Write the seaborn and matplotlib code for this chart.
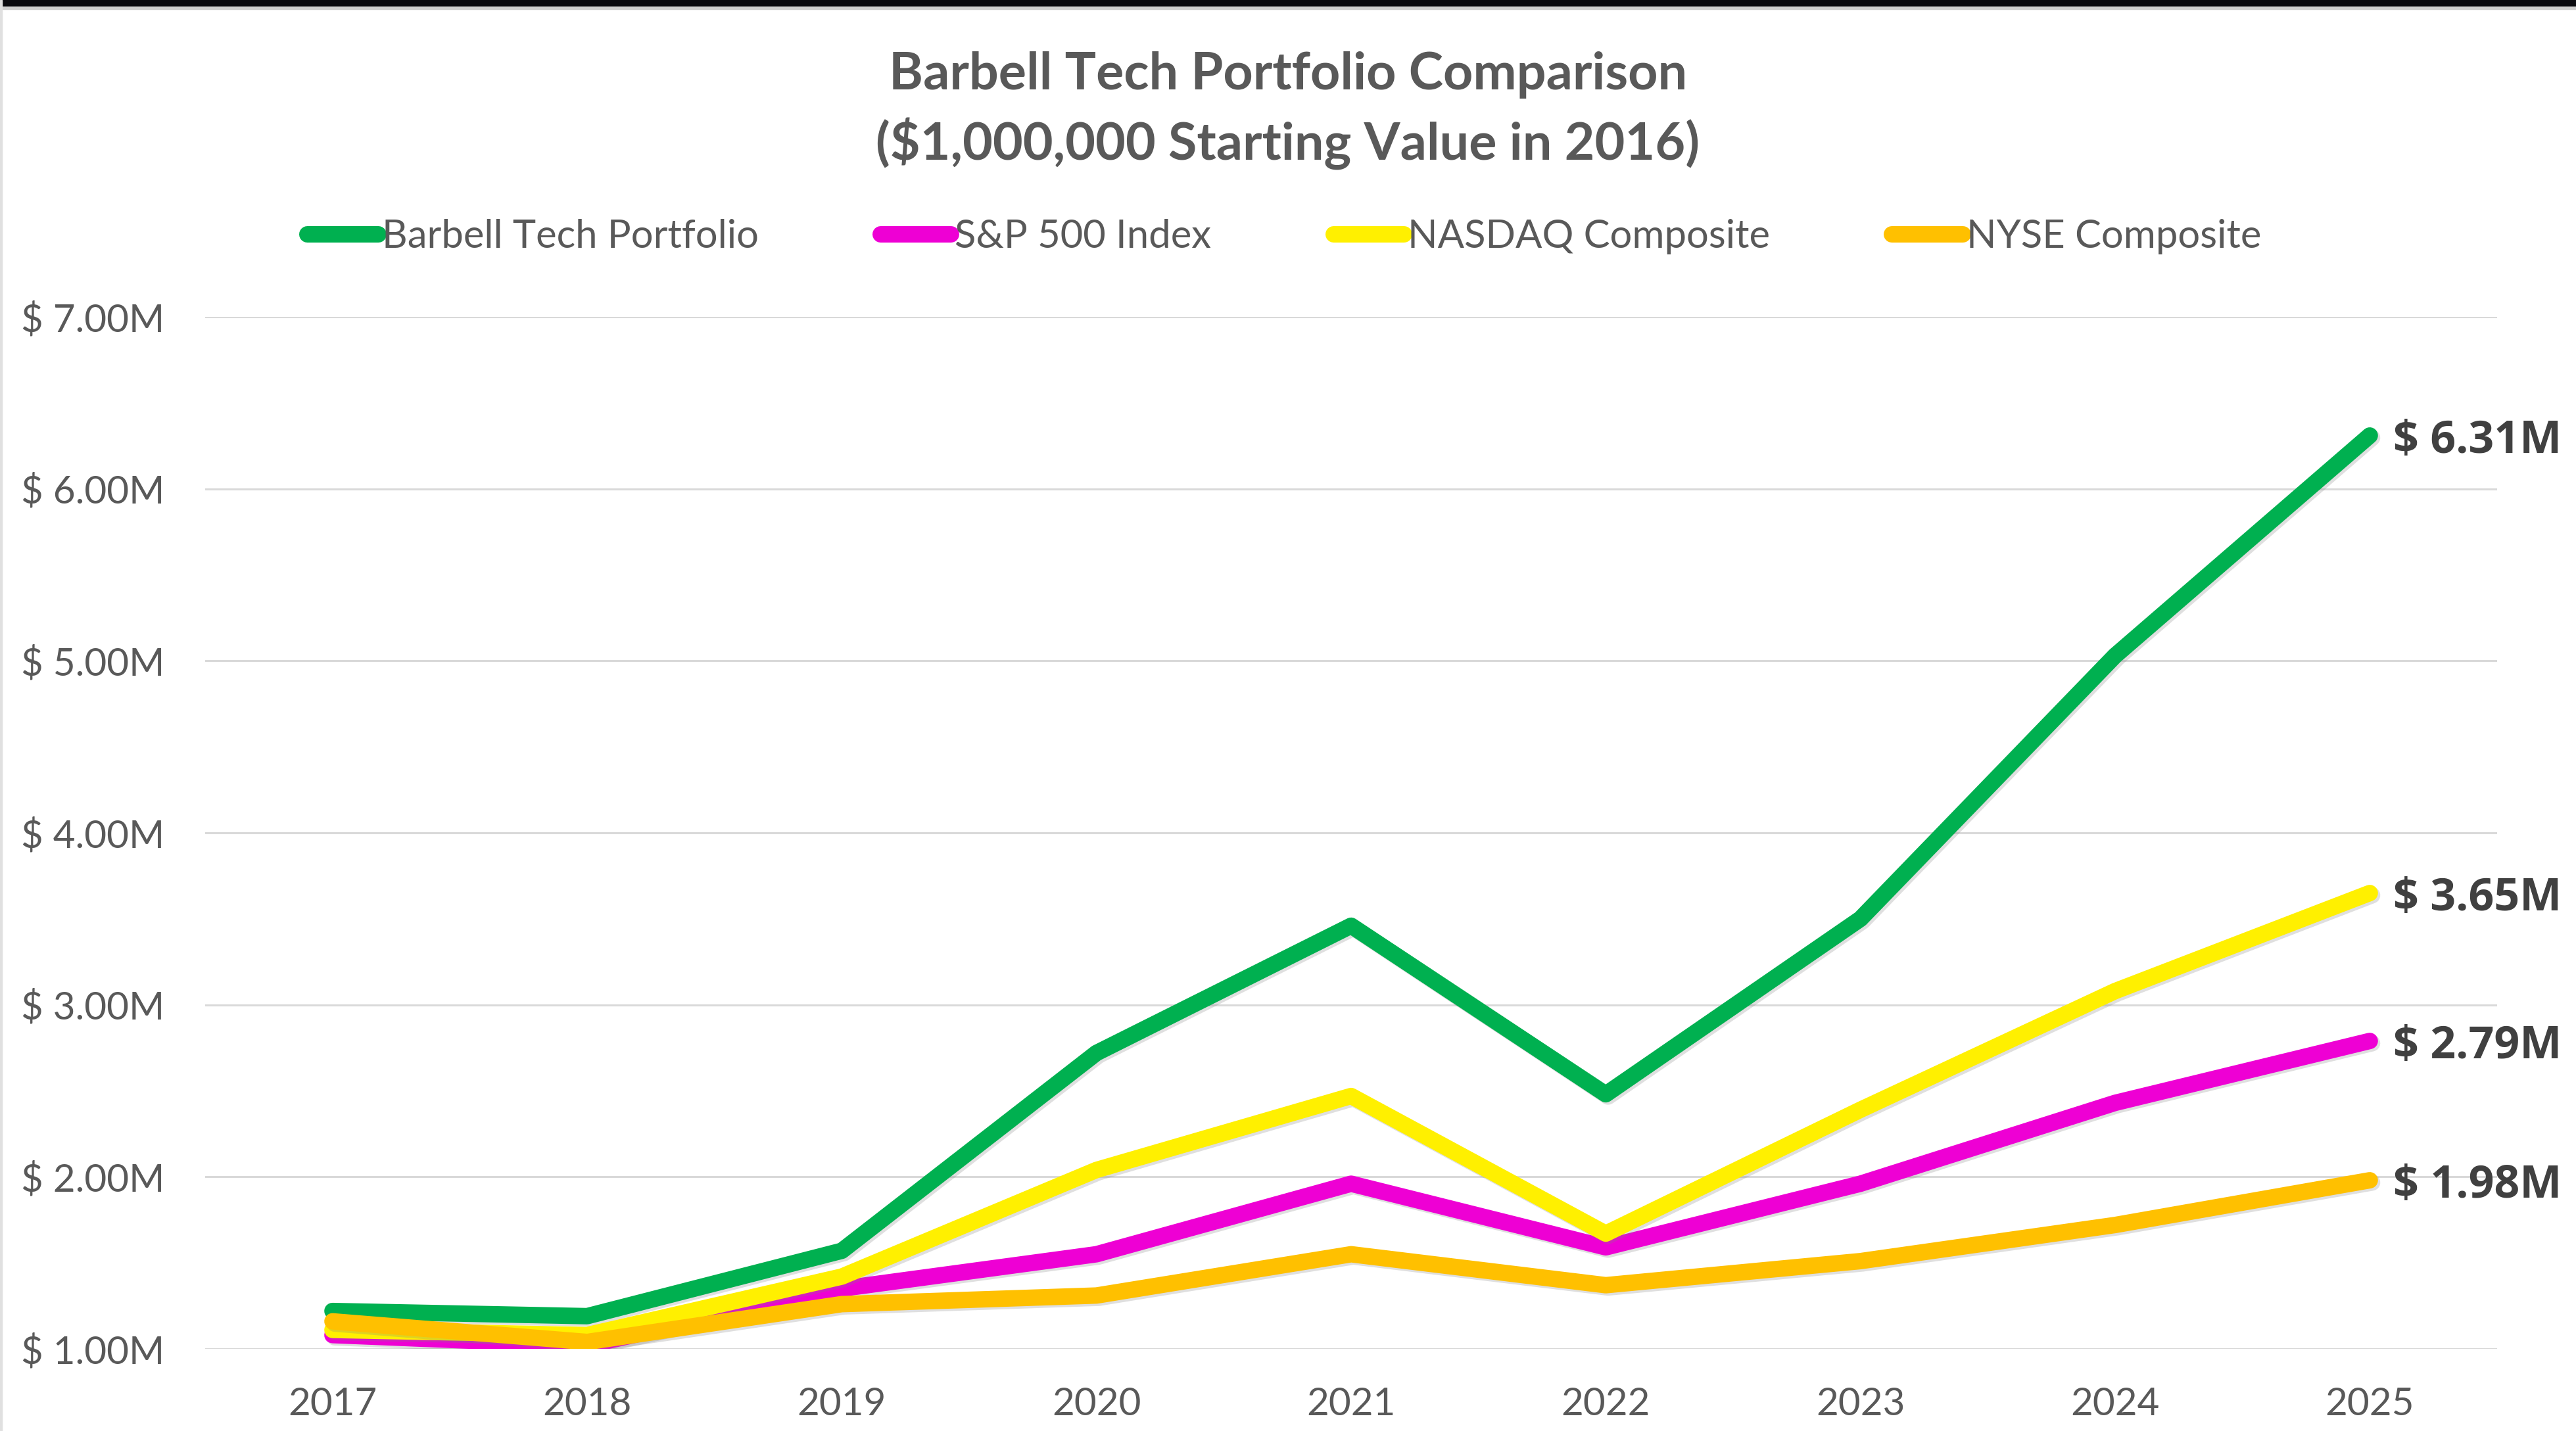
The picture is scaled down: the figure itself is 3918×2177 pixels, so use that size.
import matplotlib
matplotlib.use("Agg")
import matplotlib.pyplot as plt
import matplotlib.patheffects as pe
from matplotlib.ticker import FuncFormatter
from matplotlib.patches import Rectangle
import seaborn as sns
import pandas as pd

# ---- data (values in $ millions) ----
years = [2017, 2018, 2019, 2020, 2021, 2022, 2023, 2024, 2025]
barbell = [1.22, 1.19, 1.57, 2.72, 3.46, 2.48, 3.50, 5.03, 6.31]
sp500 = [1.08, 1.02, 1.35, 1.55, 1.96, 1.59, 1.96, 2.43, 2.79]
nasdaq = [1.11, 1.08, 1.42, 2.04, 2.47, 1.67, 2.39, 3.08, 3.65]
nyse = [1.16, 1.04, 1.26, 1.31, 1.55, 1.37, 1.51, 1.72, 1.98]
series_names = ["Barbell Tech Portfolio", "S&P 500 Index", "NASDAQ Composite", "NYSE Composite"]
series_colors = ["#00B050", "#EE00D4", "#FFF000", "#FFC000"]
y_ticks = [1, 2, 3, 4, 5, 6, 7]
title_text = "Barbell Tech Portfolio Comparison\n($1,000,000 Starting Value in 2016)"

df = pd.DataFrame({
    "Year": years * 4,
    "Value": barbell + sp500 + nasdaq + nyse,
    "Series": sum([[n] * len(years) for n in series_names], []),
})

sns.set_theme(style="white")
plt.rcParams["font.family"] = ["Lato", "DejaVu Sans"]

W, H = 3918, 2177
fig = plt.figure(figsize=(W / 100, H / 100), dpi=100)
ax = fig.add_axes([312 / W, 1 - 2052 / H, (3798 - 312) / W, (2052 - 482) / H])

shadow = [pe.SimpleLineShadow(offset=(2.5, -2.5), shadow_color="#808080", alpha=0.25), pe.Normal()]

sns.lineplot(data=df, x="Year", y="Value", hue="Series", hue_order=series_names,
             palette=dict(zip(series_names, series_colors)), linewidth=18, ax=ax,
             legend=False, sort=False)
for line in ax.get_lines():
    line.set_solid_capstyle("round")
    line.set_solid_joinstyle("round")
    line.set_path_effects(shadow)

ax.set_xlim(min(years) - 0.5, max(years) + 0.5)
ax.set_ylim(1, 7)
ax.set_yticks(y_ticks)
ax.set_xticks(years)
ax.yaxis.set_major_formatter(FuncFormatter(lambda v, p: f"$ {v:.2f}M"))
ax.grid(axis="y", color="#D9D9D9", linewidth=2.2)
ax.set_axisbelow(True)
for s in ax.spines.values():
    s.set_visible(False)
ax.set_xlabel("")
ax.set_ylabel("")
ax.tick_params(axis="both", length=0, colors="#595959", labelsize=42)
ax.tick_params(axis="y", pad=280 * 0.72)
ax.tick_params(axis="x", pad=42)
for lab in ax.get_yticklabels():
    lab.set_horizontalalignment("left")

# end labels
for vals in [barbell, sp500, nasdaq, nyse]:
    ax.annotate(f"$ {vals[-1]:.2f}M", xy=(years[-1], vals[-1]), xytext=(26, 0),
                textcoords="offset points", va="center_baseline", ha="left",
                fontsize=49, fontweight="bold", color="#404040",
                family=["Open Sans", "DejaVu Sans"], annotation_clip=False)

# legend
handles = [plt.Line2D([0], [0], color=c, linewidth=18, solid_capstyle="round") for c in series_colors]
fig.legend(handles, series_names, loc="center", bbox_to_anchor=(0.4985, 1 - 360 / H),
           ncol=4, frameon=False, fontsize=43, handlelength=1.8, handletextpad=0.1,
           columnspacing=3.1, labelcolor="#595959")

# title
fig.text(0.5, 1 - 168 / H, title_text, ha="center", va="center", fontsize=57,
         fontweight="bold", color="#595959", linespacing=1.42)

# screenshot border / top band
fig.patches.append(Rectangle((0, 1 - 10 / H), 1, 10 / H, transform=fig.transFigure,
                             color="#0A0A0F", zorder=10))
fig.patches.append(Rectangle((0, 1 - 14 / H), 1, 4 / H, transform=fig.transFigure,
                             color="#D0D0D0", zorder=10))
fig.patches.append(Rectangle((0, 0), 3 / W, 1, transform=fig.transFigure,
                             color="#E0E0E0", zorder=10))

fig.savefig("out.png", dpi=100, facecolor="white")
